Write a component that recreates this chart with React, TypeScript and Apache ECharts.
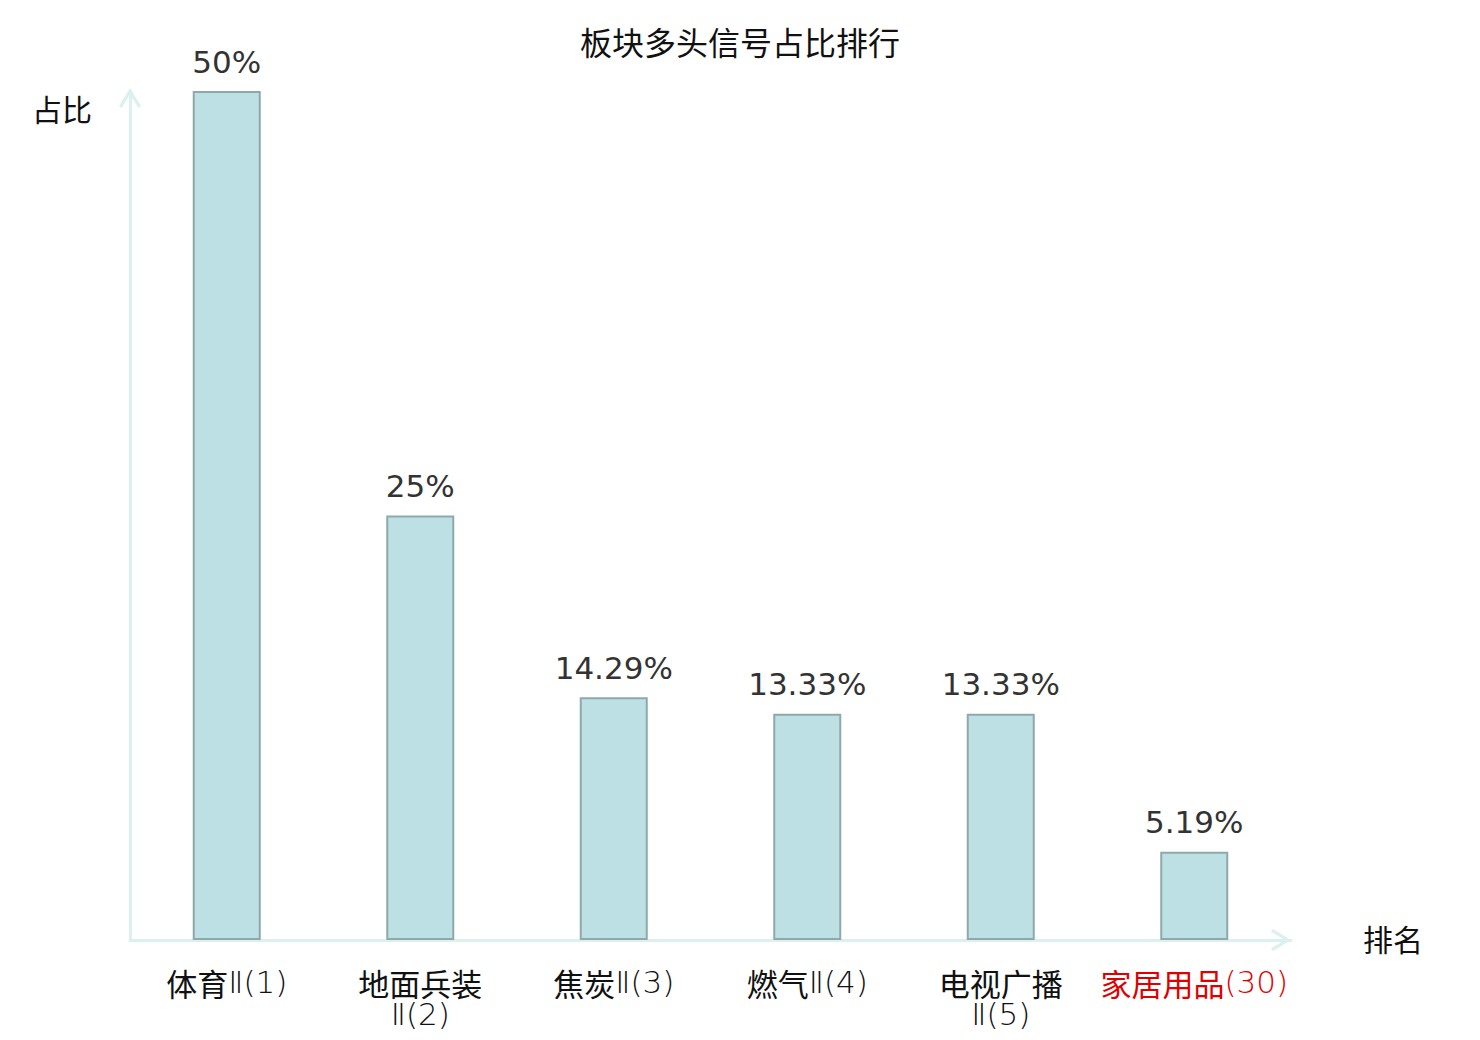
import React, { useEffect, useRef } from "react";
import * as echarts from "echarts";

const titleText = "板块多头信号占比排行";
const categories = ["体育Ⅱ(1)", "地面兵装Ⅱ(2)", "焦炭Ⅱ(3)", "燃气Ⅱ(4)", "电视广播Ⅱ(5)", "家居用品(30)"];
const values = [50, 25, 14.29, 13.33, 13.33, 5.19];
const highlighted = ["家居用品(30)"];
const yName = "占比";
const xName = "排名";

const chevron = "path://M0,18 L11,0 L22,18 L19.4,20 L11,6.4 L2.6,20 Z";
const axisColor = "#dcf1ee";

function formatLabel(v: string): string {
  const m = v.match(/^([\u4e00-\u9fff]+)(.*)$/);
  if (!m) return `{l|${v}}`;
  const han = m[1];
  const rest = m[2];
  const sep = han.length >= 4 && rest.startsWith("Ⅱ") ? "}\n{l|" : "}{l|";
  return `{c|${han}${sep}${rest}}`;
}

export default function App() {
  const ref = useRef<HTMLDivElement>(null);
  useEffect(() => {
    document.body.style.margin = "0";
    const chart = echarts.init(ref.current!, null, { renderer: "svg" });
    chart.setOption({
      animation: false,
      backgroundColor: "#ffffff",
      title: {
        text: titleText,
        left: "center",
        top: 23,
        textStyle: { fontSize: 32, fontWeight: "normal", color: "#111", fontFamily: "DejaVu Sans, Noto Sans CJK SC" },
      },
      grid: { left: 130, right: 189, top: 91, bottom: 100, containLabel: false },
      xAxis: {
        type: "category",
        data: categories.map((c) =>
          highlighted.includes(c) ? { value: c, textStyle: { color: "#e00000" } } : c
        ),
        name: xName,
        nameLocation: "end",
        nameGap: 72,
        nameTextStyle: { fontSize: 30, color: "#111", align: "left", verticalAlign: "middle", fontFamily: "DejaVu Sans, Noto Sans CJK SC" },
        axisLine: {
          show: true,
          symbol: ["none", chevron],
          symbolSize: [22, 20],
          symbolOffset: [0, -10],
          lineStyle: { color: axisColor, width: 3 },
        },
        axisTick: { show: false },
        axisLabel: {
          interval: 0,
          margin: 26,
          fontSize: 31,
          lineHeight: 32,
          color: "#111",
          formatter: formatLabel,
          rich: {
            c: { fontSize: 31, lineHeight: 32, fontFamily: "Noto Sans CJK SC", fontWeight: "normal" },
            l: { fontSize: 31, lineHeight: 32, fontFamily: "DejaVu Sans", fontWeight: 200 },
          },
        },
        splitLine: { show: false },
      },
      yAxis: {
        type: "value",
        min: 0,
        max: 50,
        name: yName,
        nameLocation: "end",
        nameGap: -19,
        nameTextStyle: {
          fontSize: 30,
          color: "#111",
          align: "right",
          verticalAlign: "middle",
          padding: [0, 38, 0, 0],
          fontFamily: "DejaVu Sans, Noto Sans CJK SC",
        },
        axisLine: {
          show: true,
          symbol: ["none", chevron],
          symbolSize: [22, 20],
          symbolOffset: [0, -7],
          lineStyle: { color: axisColor, width: 3 },
        },
        axisTick: { show: false },
        axisLabel: { show: false },
        splitLine: { show: false },
      },
      series: [
        {
          type: "bar",
          data: values,
          barWidth: 68,
          itemStyle: { color: "#bce0e3", borderColor: "#8fa9aa", borderWidth: 2 },
          label: {
            show: true,
            position: "top",
            distance: 14,
            fontSize: 31,
            color: "#333",
            fontFamily: "DejaVu Sans",
            formatter: (p: any) => `${p.value}%`,
          },
        },
      ],
    });
    return () => chart.dispose();
  }, []);
  return <div ref={ref} style={{ width: 1480, height: 1040 }} />;
}
